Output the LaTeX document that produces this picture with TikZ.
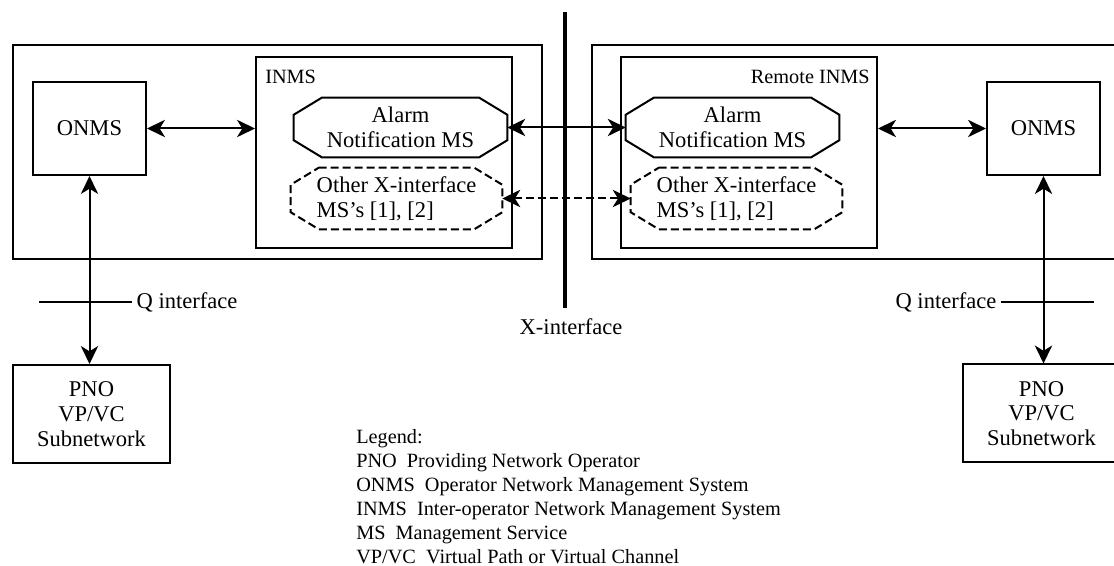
\documentclass[tikz,border=0pt]{standalone}
\usepackage{fontspec}
\setmainfont{Liberation Serif}
\usetikzlibrary{arrows.meta}
\newcommand{\pxu}{0.75pt}
\newcommand{\drawoct}[2]{%
  \draw[#2] ([shift={(28,0)}]#1.north west) -- ([shift={(-28,0)}]#1.north east)
    -- ([shift={(0,17)}]#1.north east) -- ([shift={(0,-17)}]#1.south east)
    -- ([shift={(-28,0)}]#1.south east) -- ([shift={(28,0)}]#1.south west)
    -- ([shift={(0,-17)}]#1.south west) -- ([shift={(0,17)}]#1.north west) -- cycle;}
\tikzset{
    plain-box/.style = {draw, line width=1.5pt, rectangle, align=center, inner sep=0pt},
    oct-box/.style = {rectangle, inner sep=0pt},
    solid-edge/.style = {line width=1.5pt},
    dash-edge/.style = {line width=1.5pt, dash pattern=on 6pt off 3pt},
    both-tips/.style = {{Stealth[length=13.5pt,width=13pt,inset=4pt]}-{Stealth[length=13.5pt,width=13pt,inset=4pt]}},
    x-bar/.style = {line width=3.4pt},
    small-label/.style = {inner sep=0pt, font=\fontsize{15.2}{18}\selectfont},
}

\begin{document}
\begin{tikzpicture}[x=0.75pt, y=-0.75pt, font=\fontsize{16.9}{18.5}\selectfont]
\useasboundingbox (0,0) rectangle (1114,566);
\clip (0,0) rectangle (1114,566);

% operator domains
\draw[solid-edge] (12.7,45) rectangle (542,259.5);
\draw[solid-edge] (591.5,45) rectangle (1125,259.5);

% local side
\node[plain-box, minimum width=113*\pxu, minimum height=93*\pxu] (onms-l) at (89.5,128.5) {ONMS};
\node[plain-box, minimum width=256*\pxu, minimum height=191*\pxu] (inms-l) at (384,152.5) {};
\node[small-label, anchor=north west] (inms-l-title) at ([shift={(10,14)}]inms-l.north west) {INMS};
\node[oct-box, minimum width=213*\pxu, minimum height=59*\pxu, align=center] (alarm-l) at (400.5,127.5) {Alarm\\Notification MS};
\node[oct-box, minimum width=211*\pxu, minimum height=61*\pxu, align=left] (other-l) at (396.5,198.5) {Other X-interface\\MS’s [1], [2]};
\node[plain-box, minimum width=157*\pxu, minimum height=98*\pxu] (pno-l) at (91.5,414) {PNO\\VP/VC\\Subnetwork};
\drawoct{alarm-l}{solid-edge}
\drawoct{other-l}{dash-edge}

% remote side
\node[plain-box, minimum width=113*\pxu, minimum height=93*\pxu] (onms-r) at (1043.5,128.5) {ONMS};
\node[plain-box, minimum width=256*\pxu, minimum height=191*\pxu] (inms-r) at (749,152.5) {};
\node[small-label, anchor=north east] (inms-r-title) at ([shift={(-8,14)}]inms-r.north east) {Remote INMS};
\node[oct-box, minimum width=213*\pxu, minimum height=59*\pxu, align=center] (alarm-r) at (732.5,127.5) {Alarm\\Notification MS};
\node[oct-box, minimum width=211*\pxu, minimum height=61*\pxu, align=left] (other-r) at (736.5,198.5) {Other X-interface\\MS’s [1], [2]};
\node[plain-box, minimum width=157*\pxu, minimum height=98*\pxu] (pno-r) at (1041.5,413.5) {PNO\\VP/VC\\Subnetwork};
\drawoct{alarm-r}{solid-edge}
\drawoct{other-r}{dash-edge}

% links
\draw[solid-edge, both-tips] (onms-l.east) -- (onms-l.east -| inms-l.west);
\draw[solid-edge, both-tips] (onms-l.south) -- (onms-l.south |- pno-l.north);
\draw[solid-edge, both-tips] (alarm-l.east) -- (alarm-r.west);
\draw[dash-edge, both-tips] (other-l.east) -- (other-r.west);
\draw[solid-edge, both-tips] (inms-r.east |- onms-r.west) -- (onms-r.west);
\draw[solid-edge, both-tips] (onms-r.south) -- (onms-r.south |- pno-r.north);

% Q interfaces
\coordinate (q-l-a) at (39,302.5);
\coordinate (q-l-b) at (132,302.5);
\draw[solid-edge] (q-l-a) -- (q-l-b);
\node[anchor=west] (q-l-label) at (q-l-b) {Q interface};
\coordinate (q-r-a) at (1001,302.5);
\coordinate (q-r-b) at (1094,302.5);
\draw[solid-edge] (q-r-a) -- (q-r-b);
\node[anchor=east] (q-r-label) at (q-r-a) {Q interface};

% X interface
\coordinate (x-top) at (565,12);
\coordinate (x-bot) at (565,308);
\draw[x-bar] (x-top) -- (x-bot);
\node (x-label) at (571,327) {X-interface};

% legend
\node[small-label, anchor=north west, align=left] (legend) at (356,429) {Legend:\\
PNO~~Providing Network Operator\\
ONMS~~Operator Network Management System\\
INMS~~Inter-operator Network Management System\\
MS~~Management Service\\
VP/VC~~Virtual Path or Virtual Channel};
\end{tikzpicture}
\end{document}
